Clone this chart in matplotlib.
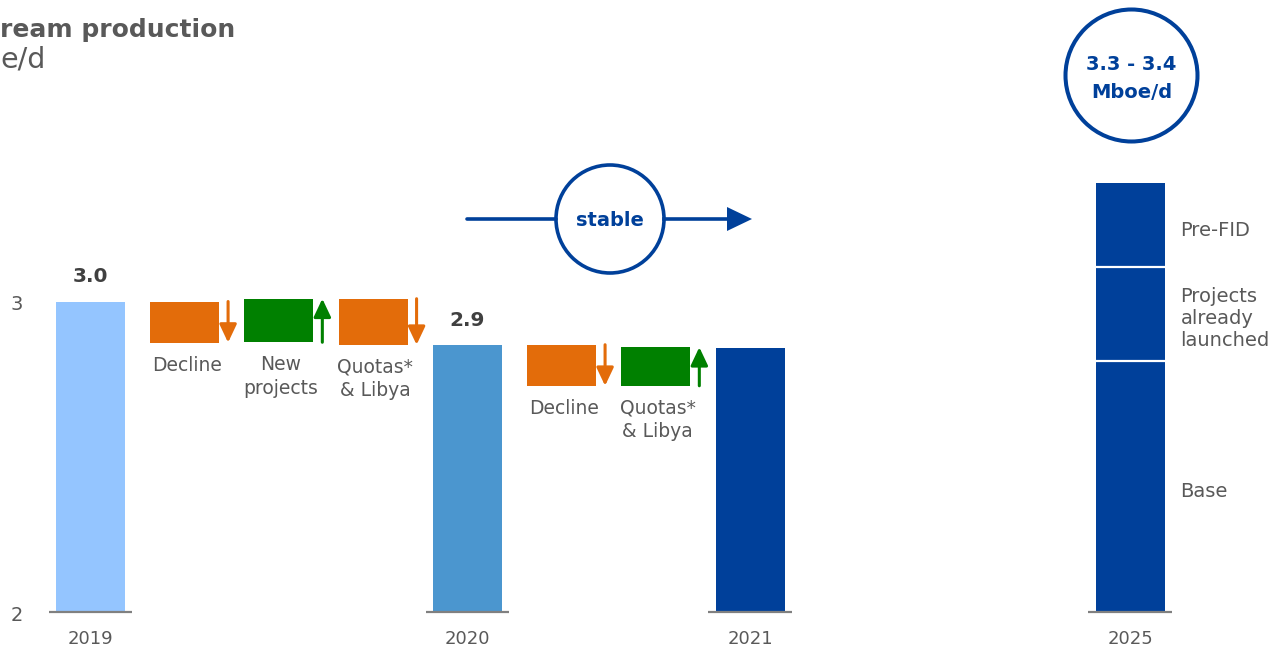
import matplotlib
matplotlib.use("Agg")
import matplotlib.pyplot as plt
from matplotlib.patches import Circle, Polygon

plt.rcParams["font.family"] = ["DejaVu Sans"]

# ---- data -------------------------------------------------------------
y_floor = 2.0
y_ticks = [2, 3]

bar_years = ["2019", "2020", "2021"]
bar_values = [3.00, 2.86, 2.85]
bar_value_labels = ["3.0", "2.9", None]
bar_slots = [0, 4, 7]
bar_colors = ["#94C5FF", "#4B96CF", "#00409A"]

step_labels = ["Decline", "New\nprojects", "Quotas*\n& Libya", "Decline", "Quotas*\n& Libya"]
step_slots = [1, 2, 3, 5, 6]
step_top = [3.000, 3.009, 3.009, 2.861, 2.853]
step_bottom = [2.868, 2.869, 2.861, 2.729, 2.729]
step_up = [False, True, False, False, True]

outlook_year = "2025"
outlook_slot = 11.03
outlook_parts = ["Base", "Projects\nalready\nlaunched", "Pre-FID"]
outlook_sizes = [2.81, 0.30, 0.27]

# ---- style -------------------------------------------------------------
GREY = "#595959"
DARK = "#404040"
BLUE = "#00409A"
ORANGE = "#E36C0A"
GREEN = "#008000"
BAR_W = 0.732

fig = plt.figure(figsize=(12.83, 6.5), dpi=100)
ax = fig.add_axes([0, 0, 1, 1])
ax.set_xlim(-0.960, 12.653)
ax.set_ylim(1.879, 3.970)
ax.axis("off")

# main production bars
ax.bar(bar_slots, [v - y_floor for v in bar_values], bottom=y_floor,
       width=BAR_W, color=bar_colors, zorder=2)
for s, v, lbl in zip(bar_slots, bar_values, bar_value_labels):
    if lbl:
        ax.annotate(lbl, xy=(s, v), xytext=(0, 14), textcoords="offset points",
                    ha="center", va="baseline", fontsize=14.5,
                    fontweight="bold", color=DARK)

# bridge steps with direction arrows
for s, lbl, top, bot, up in zip(step_slots, step_labels, step_top, step_bottom, step_up):
    c = GREEN if up else ORANGE
    ax.bar(s, top - bot, bottom=bot, width=BAR_W, color=c, zorder=2)
    start, end = (bot, top) if up else (top, bot)
    ax.annotate("", xy=(s + 0.46, end), xytext=(s + 0.46, start),
                arrowprops=dict(arrowstyle="-|>,head_length=0.55,head_width=0.26",
                                mutation_scale=20, lw=2.2, color=c,
                                shrinkA=0, shrinkB=0))
    ax.annotate(lbl, xy=(s + 0.02, bot), xytext=(0, -9.5), textcoords="offset points",
                ha="center", va="top", fontsize=13.5, color=GREY,
                linespacing=1.3)

# 2025 outlook stacked bar
bottoms = [y_floor, outlook_sizes[0]]
for size in outlook_sizes[1:-1]:
    bottoms.append(bottoms[-1] + size)
heights = [outlook_sizes[0] - y_floor] + outlook_sizes[1:]
ax.bar([outlook_slot] * len(heights), heights, bottom=bottoms,
       width=BAR_W, color=BLUE, zorder=2)
for b in bottoms[1:]:
    ax.hlines(b, outlook_slot - BAR_W / 2, outlook_slot + BAR_W / 2,
              color="white", lw=1.6, zorder=3)
for b, h, name in zip(bottoms, heights, outlook_parts):
    ax.annotate(name, xy=(outlook_slot + BAR_W / 2, b + h / 2),
                xytext=(11.5, -3.5), textcoords="offset points",
                ha="left", va="center", fontsize=14, color=GREY,
                linespacing=1.2)

# baselines and year labels
for s, yr in zip(bar_slots + [outlook_slot], bar_years + [outlook_year]):
    ax.hlines(y_floor, s - 0.445, s + 0.445, color="#808080", lw=1.6, zorder=3)
    ax.annotate(yr, xy=(s, y_floor), xytext=(0, -12.5), textcoords="offset points",
                ha="center", va="top", fontsize=13, color=GREY)

# y-axis values
for t in y_ticks:
    ax.annotate(str(t), xy=(-0.78, t), xytext=(0, -2), textcoords="offset points",
                ha="center", va="center", fontsize=14, color=GREY)

# title
fig.text(0.0, 1 - 37 / 650, "ream production", ha="left", va="baseline",
         fontsize=18, fontweight="bold", color=GREY)
fig.text(0.0, 1 - 67 / 650, "e/d", ha="left", va="baseline",
         fontsize=20.5, color=GREY)

# callouts drawn in pixel space
ov = fig.add_axes([0, 0, 1, 1])
ov.set_xlim(0, 1283)
ov.set_ylim(650, 0)
ov.axis("off")

ov.plot([467, 556], [219, 219], color=BLUE, lw=2.6, solid_capstyle="round")
ov.plot([664, 730], [219, 219], color=BLUE, lw=2.6)
ov.add_patch(Polygon([(727, 207), (752, 219), (727, 231)], closed=True,
                     color=BLUE, lw=0))
ov.add_patch(Circle((610, 219), 54, facecolor="white", edgecolor=BLUE, lw=2.6))
ov.text(610, 220, "stable", ha="center", va="center", fontsize=14,
        fontweight="bold", color=BLUE)

ov.add_patch(Circle((1131.5, 75.5), 66, facecolor="white", edgecolor=BLUE, lw=2.9))
ov.text(1131.5, 64.5, "3.3 - 3.4", ha="center", va="center", fontsize=14,
        fontweight="bold", color=BLUE)
ov.text(1131.5, 93, "Mboe/d", ha="center", va="center", fontsize=14,
        fontweight="bold", color=BLUE)

fig.savefig("out.png", dpi=100)
